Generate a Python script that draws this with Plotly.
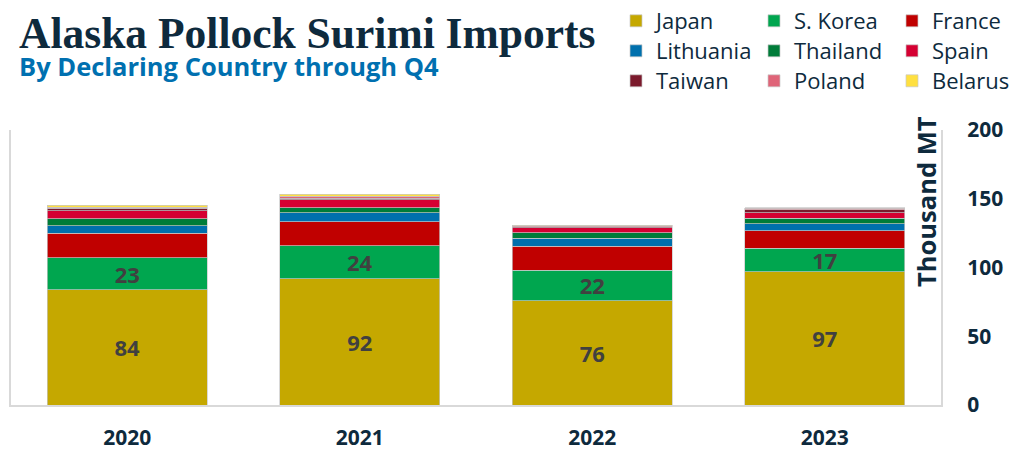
import plotly.graph_objects as go

# Imports by declaring country, thousand metric tons
years = ["2020", "2021", "2022", "2023"]
japan = [84, 92, 76, 97]
s_korea = [23, 24, 22, 17]
france = [18.0, 17.2, 17.5, 12.9]
lithuania = [5.5, 6.6, 5.6, 5.1]
thailand = [4.9, 3.6, 4.1, 3.9]
spain = [5.8, 5.8, 3.6, 4.1]
taiwan = [2.0, 1.2, 0.9, 2.0]
poland = [0.8, 1.4, 0.6, 1.2]
belarus = [1.2, 1.5, 0.5, 0.2]
y_ticks = [0, 50, 100, 150, 200]

NAVY = "#0e2a3d"
SANS = "Open Sans"

series = [
    ("Japan", japan, "#c5a800", "legend", True),
    ("S. Korea", s_korea, "#00a64f", "legend", True),
    ("France", france, "#c00000", "legend", False),
    ("Lithuania", lithuania, "#0070ad", "legend2", False),
    ("Thailand", thailand, "#007c39", "legend2", False),
    ("Spain", spain, "#d50032", "legend2", False),
    ("Taiwan", taiwan, "#7b1a2c", "legend3", False),
    ("Poland", poland, "#df6478", "legend3", False),
    ("Belarus", belarus, "#ffe040", "legend3", False),
]

fig = go.Figure()
for name, vals, color, leg, labelled in series:
    fig.add_trace(go.Bar(
        x=years, y=vals, name=name, legend=leg,
        marker=dict(color=color, line=dict(color="#c8c8c8", width=0.7)),
        text=[f"{v:g}" for v in vals] if labelled else None,
        textposition="inside" if labelled else "none",
        insidetextanchor="middle", textangle=0,
        textfont=dict(family=SANS, size=22, color="#404040", weight="bold"),
        hoverinfo="x+y+name",
    ))

# plot area spans x 11..941, y 130..405 in a 1011x450 canvas
def px_x(p):
    return (p - 11) / 930.0

def px_y(p):
    return (405 - p) / 275.0

legend_common = dict(
    orientation="h", xanchor="left", yanchor="middle",
    font=dict(family=SANS, size=22, color=NAVY),
    entrywidth=93, entrywidthmode="pixels",
    traceorder="normal", bgcolor="rgba(0,0,0,0)",
    itemclick=False, itemdoubleclick=False,
)

fig.update_layout(
    width=1011, height=450,
    margin=dict(l=11, r=70, t=130, b=45, autoexpand=False),
    paper_bgcolor="white", plot_bgcolor="white",
    barmode="stack", bargap=0.312,
    uniformtext=dict(minsize=22, mode="show"),
    showlegend=True,
    legend=dict(x=px_x(616), y=px_y(21), **legend_common),
    legend2=dict(x=px_x(616), y=px_y(51), **legend_common),
    legend3=dict(x=px_x(616), y=px_y(81), **legend_common),
    xaxis=dict(
        showgrid=False, showline=True, linecolor="#d9d9d9", linewidth=2,
        ticks="", tickfont=dict(family=SANS, size=21, color=NAVY, weight="bold"),
        ticklabelstandoff=13, automargin=False,
    ),
    yaxis=dict(
        side="right", range=[0, 200], tickvals=y_ticks,
        showgrid=False, zeroline=False, showline=True, mirror=True,
        linecolor="#d9d9d9", linewidth=2, ticks="",
        tickfont=dict(family=SANS, size=21, color=NAVY, weight="bold"),
        ticklabelstandoff=20, automargin=False,
    ),
    annotations=[
        dict(text="Alaska Pollock Surimi Imports", xref="paper", yref="paper",
             x=px_x(17), y=px_y(33), xanchor="left", yanchor="middle",
             showarrow=False,
             font=dict(family="Liberation Serif", size=43.5, color=NAVY, weight="bold")),
        dict(text="By Declaring Country through Q4", xref="paper", yref="paper",
             x=px_x(17), y=px_y(66), xanchor="left", yanchor="middle",
             showarrow=False,
             font=dict(family=SANS, size=25.5, color="#0070b0", weight="bold")),
        dict(text="Thousand MT", xref="paper", yref="paper",
             x=px_x(926), y=px_y(202), xanchor="center", yanchor="middle",
             textangle=-90, showarrow=False,
             font=dict(family=SANS, size=25.5, color=NAVY, weight="bold")),
    ],
)

fig.write_html("out.html")
